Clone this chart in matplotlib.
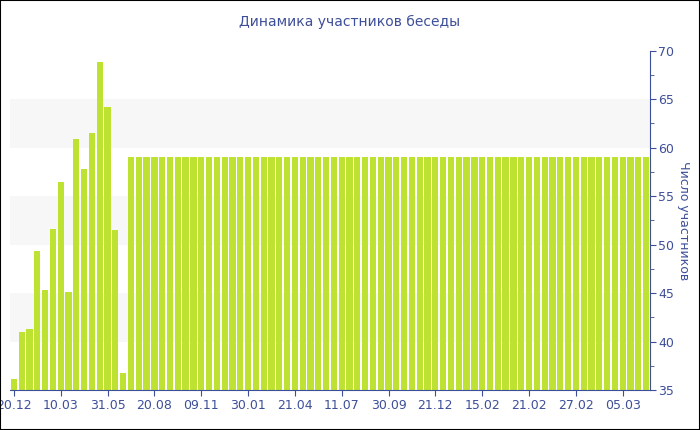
import numpy as np
import matplotlib.pyplot as plt
from matplotlib.patches import Rectangle
from matplotlib.ticker import MultipleLocator

# Data
first_values = [36.2, 41.0, 41.3, 49.4, 45.3, 51.6, 56.5, 45.1, 60.9, 57.8,
                61.5, 68.8, 64.2, 51.5, 36.8]
flat_values = [59] * 67
values = first_values + flat_values
tick_labels = ['20.12', '10.03', '31.05', '20.08', '09.11', '30.01', '21.04',
               '11.07', '30.09', '21.12', '15.02', '21.02', '27.02', '05.03']
tick_step = 6

text_color = '#3e4f99'
bar_color = '#bde232'

fig = plt.figure(figsize=(7, 4.3), dpi=100)
ax = fig.add_axes([10/700, 1 - 390.2/430, 640/700, (390.2 - 50.7)/430])

# Alternating grey bands
for lo in [40, 50, 60]:
    ax.axhspan(lo, lo + 5, color='#f7f7f7', zorder=0, lw=0)

x = np.arange(len(values))
ax.bar(x, np.array(values) - 35, bottom=35, width=0.8, color=bar_color, zorder=2)

ax.set_xlim(-0.5, len(values) - 0.5)
ax.set_ylim(35, 70)

ax.set_xticks(np.arange(len(tick_labels)) * tick_step)
ax.set_xticklabels(tick_labels)

ax.yaxis.tick_right()
ax.yaxis.set_label_position('right')
ax.yaxis.set_major_locator(MultipleLocator(5))
ax.yaxis.set_minor_locator(MultipleLocator(2.5))
ax.set_ylabel('Число участников', rotation=-90, labelpad=11, color=text_color, fontsize=9)

for s in ['top', 'left']:
    ax.spines[s].set_visible(False)
for s in ['right', 'bottom']:
    ax.spines[s].set_color(text_color)
ax.tick_params(axis='both', colors=text_color, labelsize=9, length=4, pad=2)
ax.tick_params(axis='y', which='minor', colors=text_color, length=3)

fig.text(0.5, 1 - 22/430, 'Динамика участников беседы', ha='center', va='center',
         color=text_color, fontsize=10)

# border around the figure
fig.patches.append(Rectangle((0, 0), 1, 1, transform=fig.transFigure, fill=False,
                             edgecolor='black', linewidth=1.5))

fig.savefig('out.png', dpi=100)
